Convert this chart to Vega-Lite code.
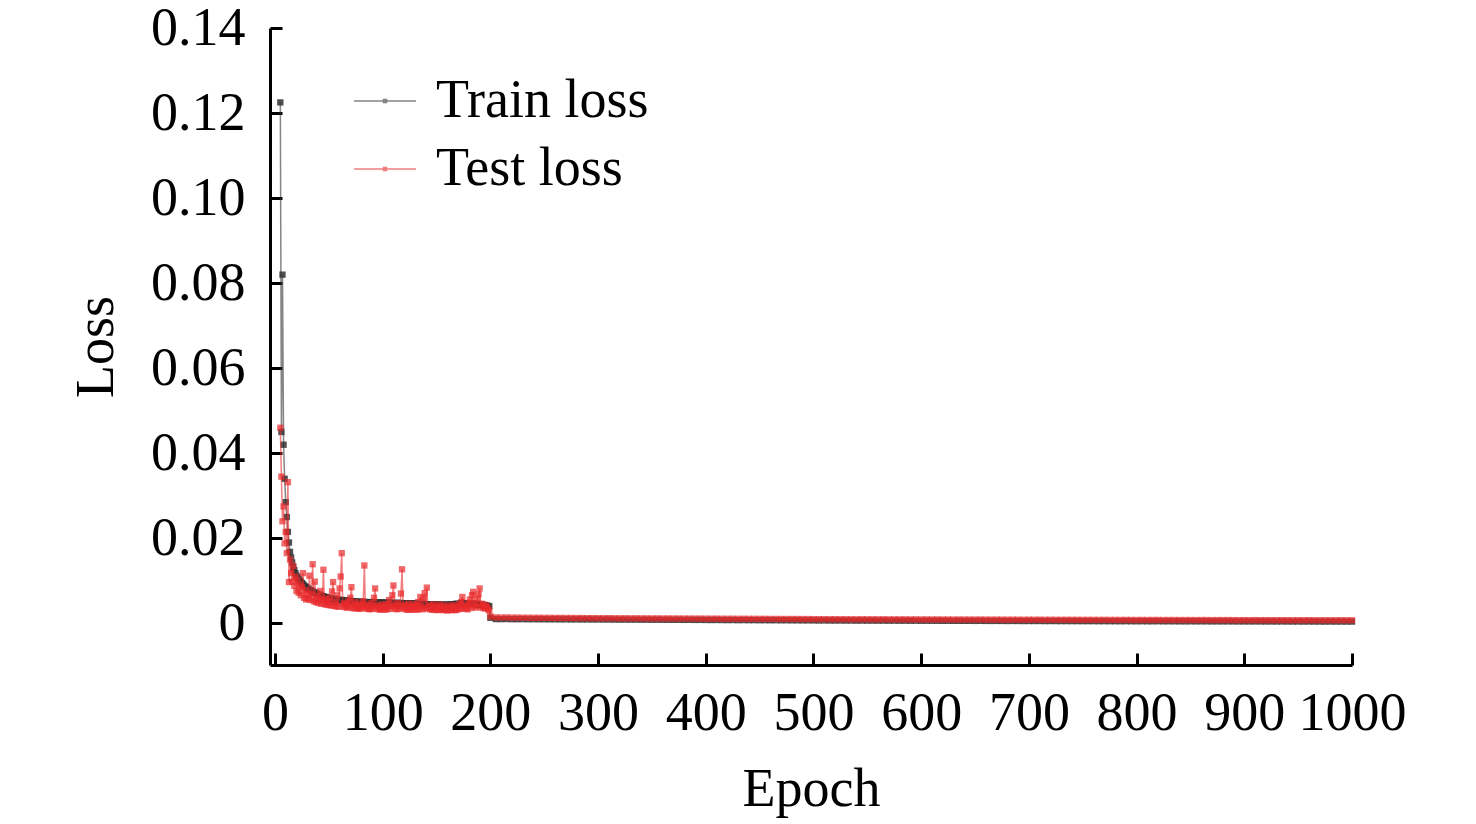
{
  "$schema": "https://vega.github.io/schema/vega-lite/v6.json",
  "width": 1082,
  "height": 637,
  "autosize": "none",
  "padding": {"left": 270, "top": 28, "right": 124, "bottom": 159},
  "background": "white",
  "config": {
    "view": {"stroke": null},
    "font": "Liberation Serif",
    "axis": {
      "domainColor": "black",
      "domainWidth": 3,
      "tickColor": "black",
      "tickWidth": 3,
      "tickSize": -12,
      "labelFont": "Liberation Serif",
      "labelFontSize": 54,
      "labelColor": "black",
      "titleFont": "Liberation Serif",
      "titleFontSize": 54,
      "titleFontWeight": "normal",
      "titleColor": "black",
      "grid": false
    },
    "axisX": {"titlePadding": 22, "labelPadding": 33},
    "axisY": {"titlePadding": 27, "labelPadding": 37},
    "legend": {
      "labelFont": "Liberation Serif",
      "labelFontSize": 54,
      "labelColor": "black",
      "labelOffset": 19,
      "labelLimit": 0,
      "rowPadding": 9,
      "padding": 0,
      "symbolType": "M-1,0H1M-0.05,-0.05H0.05V0.05H-0.05Z",
      "symbolSize": 3844,
      "symbolStrokeWidth": 1.5,
      "symbolOpacity": 0.6
    }
  },
  "data": {"values": [
    {"e":5,"train":0.1225,"test":0.046},
    {"e":6,"train":0.045,"test":0.0345},
    {"e":7,"train":0.082,"test":0.024},
    {"e":8,"train":0.042,"test":0.0275},
    {"e":9,"train":0.034,"test":0.0188},
    {"e":10,"train":0.0285,"test":0.0215},
    {"e":11,"train":0.025,"test":0.0165},
    {"e":12,"train":0.0215,"test":0.0332},
    {"e":13,"train":0.019,"test":0.0097},
    {"e":14,"train":0.0168,"test":0.015},
    {"e":15,"train":0.0155,"test":0.0118},
    {"e":16,"train":0.0143,"test":0.0098},
    {"e":17,"train":0.0132,"test":0.0135},
    {"e":18,"train":0.0125,"test":0.0088},
    {"e":19,"train":0.0118,"test":0.011},
    {"e":20,"train":0.0112,"test":0.0076},
    {"e":21,"train":0.0108,"test":0.0102},
    {"e":22,"train":0.0104,"test":0.0072},
    {"e":23,"train":0.0101,"test":0.009},
    {"e":24,"train":0.0098,"test":0.0066},
    {"e":25,"train":0.0095,"test":0.0085},
    {"e":26,"train":0.0092,"test":0.0118},
    {"e":27,"train":0.0089,"test":0.006},
    {"e":28,"train":0.0087,"test":0.0078},
    {"e":29,"train":0.0085,"test":0.0056},
    {"e":30,"train":0.0083,"test":0.007},
    {"e":31,"train":0.0081,"test":0.0058},
    {"e":32,"train":0.0079,"test":0.0112},
    {"e":33,"train":0.0078,"test":0.0055},
    {"e":34,"train":0.0076,"test":0.0068},
    {"e":35,"train":0.0075,"test":0.0139},
    {"e":36,"train":0.0073,"test":0.0052},
    {"e":37,"train":0.0072,"test":0.0098},
    {"e":38,"train":0.0071,"test":0.005},
    {"e":39,"train":0.0069,"test":0.0064},
    {"e":40,"train":0.0068,"test":0.0048},
    {"e":41,"train":0.0067,"test":0.0059},
    {"e":42,"train":0.0066,"test":0.0076},
    {"e":43,"train":0.0065,"test":0.0046},
    {"e":44,"train":0.0064,"test":0.0055},
    {"e":45,"train":0.0063,"test":0.0126},
    {"e":46,"train":0.0062,"test":0.0045},
    {"e":47,"train":0.0062,"test":0.0058},
    {"e":48,"train":0.0061,"test":0.0044},
    {"e":49,"train":0.006,"test":0.0052},
    {"e":50,"train":0.0059,"test":0.0043},
    {"e":51,"train":0.0059,"test":0.006},
    {"e":52,"train":0.0058,"test":0.0042},
    {"e":53,"train":0.0058,"test":0.0075},
    {"e":54,"train":0.0057,"test":0.0097},
    {"e":55,"train":0.0057,"test":0.0041},
    {"e":56,"train":0.0056,"test":0.005},
    {"e":57,"train":0.0056,"test":0.004},
    {"e":58,"train":0.0055,"test":0.0066},
    {"e":59,"train":0.0055,"test":0.0039},
    {"e":60,"train":0.0055,"test":0.0082},
    {"e":61,"train":0.0054,"test":0.011},
    {"e":62,"train":0.0055,"test":0.0165},
    {"e":63,"train":0.0054,"test":0.004},
    {"e":64,"train":0.0053,"test":0.0047},
    {"e":65,"train":0.0053,"test":0.0038},
    {"e":66,"train":0.0054,"test":0.0045},
    {"e":67,"train":0.0053,"test":0.0037},
    {"e":68,"train":0.0052,"test":0.0052},
    {"e":69,"train":0.0052,"test":0.0038},
    {"e":70,"train":0.0053,"test":0.006},
    {"e":71,"train":0.0052,"test":0.0085},
    {"e":72,"train":0.0051,"test":0.0036},
    {"e":73,"train":0.0052,"test":0.0044},
    {"e":74,"train":0.0051,"test":0.0035},
    {"e":75,"train":0.0051,"test":0.005},
    {"e":76,"train":0.005,"test":0.0036},
    {"e":77,"train":0.0051,"test":0.0042},
    {"e":78,"train":0.005,"test":0.0034},
    {"e":79,"train":0.005,"test":0.0046},
    {"e":80,"train":0.0051,"test":0.0035},
    {"e":81,"train":0.005,"test":0.004},
    {"e":82,"train":0.0049,"test":0.0052},
    {"e":83,"train":0.005,"test":0.0136},
    {"e":84,"train":0.0049,"test":0.0036},
    {"e":85,"train":0.005,"test":0.0043},
    {"e":86,"train":0.0049,"test":0.0034},
    {"e":87,"train":0.0049,"test":0.004},
    {"e":88,"train":0.005,"test":0.0033},
    {"e":89,"train":0.0049,"test":0.0047},
    {"e":90,"train":0.0048,"test":0.0034},
    {"e":91,"train":0.0049,"test":0.0041},
    {"e":92,"train":0.0049,"test":0.006},
    {"e":93,"train":0.0048,"test":0.0082},
    {"e":94,"train":0.0049,"test":0.0035},
    {"e":95,"train":0.0048,"test":0.0042},
    {"e":96,"train":0.0049,"test":0.0033},
    {"e":97,"train":0.0048,"test":0.0038},
    {"e":98,"train":0.0048,"test":0.0032},
    {"e":99,"train":0.0049,"test":0.0044},
    {"e":100,"train":0.0048,"test":0.0034},
    {"e":101,"train":0.0048,"test":0.0039},
    {"e":102,"train":0.0049,"test":0.0032},
    {"e":103,"train":0.0048,"test":0.0045},
    {"e":104,"train":0.0047,"test":0.0033},
    {"e":105,"train":0.0048,"test":0.004},
    {"e":106,"train":0.0049,"test":0.0055},
    {"e":107,"train":0.0048,"test":0.0034},
    {"e":108,"train":0.0047,"test":0.0041},
    {"e":109,"train":0.0048,"test":0.0066},
    {"e":110,"train":0.0048,"test":0.0089},
    {"e":111,"train":0.0047,"test":0.0035},
    {"e":112,"train":0.0048,"test":0.0042},
    {"e":113,"train":0.0047,"test":0.0033},
    {"e":114,"train":0.0048,"test":0.0048},
    {"e":115,"train":0.0047,"test":0.0034},
    {"e":116,"train":0.0047,"test":0.004},
    {"e":117,"train":0.0048,"test":0.007},
    {"e":118,"train":0.0047,"test":0.0127},
    {"e":119,"train":0.0046,"test":0.0036},
    {"e":120,"train":0.0047,"test":0.0043},
    {"e":121,"train":0.0047,"test":0.0033},
    {"e":122,"train":0.0046,"test":0.0039},
    {"e":123,"train":0.0047,"test":0.0032},
    {"e":124,"train":0.0046,"test":0.0046},
    {"e":125,"train":0.0047,"test":0.0033},
    {"e":126,"train":0.0046,"test":0.004},
    {"e":127,"train":0.0046,"test":0.0032},
    {"e":128,"train":0.0047,"test":0.0038},
    {"e":129,"train":0.0046,"test":0.0045},
    {"e":130,"train":0.0046,"test":0.0033},
    {"e":131,"train":0.0045,"test":0.0041},
    {"e":132,"train":0.0046,"test":0.0032},
    {"e":133,"train":0.0046,"test":0.005},
    {"e":134,"train":0.0045,"test":0.0034},
    {"e":135,"train":0.0046,"test":0.0062},
    {"e":136,"train":0.0045,"test":0.004},
    {"e":137,"train":0.0045,"test":0.0033},
    {"e":138,"train":0.0046,"test":0.0058},
    {"e":139,"train":0.0045,"test":0.0071},
    {"e":140,"train":0.0045,"test":0.0035},
    {"e":141,"train":0.0044,"test":0.0084},
    {"e":142,"train":0.0045,"test":0.0036},
    {"e":143,"train":0.0045,"test":0.0042},
    {"e":144,"train":0.0044,"test":0.0033},
    {"e":145,"train":0.0045,"test":0.0039},
    {"e":146,"train":0.0044,"test":0.0032},
    {"e":147,"train":0.0044,"test":0.0045},
    {"e":148,"train":0.0045,"test":0.0033},
    {"e":149,"train":0.0044,"test":0.0038},
    {"e":150,"train":0.0044,"test":0.0031},
    {"e":151,"train":0.0044,"test":0.004},
    {"e":152,"train":0.0043,"test":0.0032},
    {"e":153,"train":0.0044,"test":0.0044},
    {"e":154,"train":0.0044,"test":0.0033},
    {"e":155,"train":0.0043,"test":0.0037},
    {"e":156,"train":0.0044,"test":0.0031},
    {"e":157,"train":0.0043,"test":0.0042},
    {"e":158,"train":0.0043,"test":0.0032},
    {"e":159,"train":0.0044,"test":0.0036},
    {"e":160,"train":0.0043,"test":0.003},
    {"e":161,"train":0.0043,"test":0.0041},
    {"e":162,"train":0.0044,"test":0.0032},
    {"e":163,"train":0.0043,"test":0.0038},
    {"e":164,"train":0.0044,"test":0.0031},
    {"e":165,"train":0.0045,"test":0.0043},
    {"e":166,"train":0.0044,"test":0.0032},
    {"e":167,"train":0.0045,"test":0.0037},
    {"e":168,"train":0.0046,"test":0.0031},
    {"e":169,"train":0.0045,"test":0.004},
    {"e":170,"train":0.0046,"test":0.0033},
    {"e":171,"train":0.0045,"test":0.0045},
    {"e":172,"train":0.0046,"test":0.0034},
    {"e":173,"train":0.0047,"test":0.005},
    {"e":174,"train":0.0046,"test":0.0062},
    {"e":175,"train":0.0045,"test":0.0036},
    {"e":176,"train":0.0046,"test":0.0042},
    {"e":177,"train":0.0047,"test":0.0034},
    {"e":178,"train":0.0046,"test":0.004},
    {"e":179,"train":0.0045,"test":0.0033},
    {"e":180,"train":0.0046,"test":0.0048},
    {"e":181,"train":0.0047,"test":0.0056},
    {"e":182,"train":0.0046,"test":0.0036},
    {"e":183,"train":0.0045,"test":0.0066},
    {"e":184,"train":0.0046,"test":0.0074},
    {"e":185,"train":0.0045,"test":0.004},
    {"e":186,"train":0.0046,"test":0.0048},
    {"e":187,"train":0.0045,"test":0.0037},
    {"e":188,"train":0.0044,"test":0.0058},
    {"e":189,"train":0.0045,"test":0.0068},
    {"e":190,"train":0.0044,"test":0.0082},
    {"e":191,"train":0.0043,"test":0.0039},
    {"e":192,"train":0.0044,"test":0.0046},
    {"e":193,"train":0.0043,"test":0.0036},
    {"e":194,"train":0.0042,"test":0.0044},
    {"e":195,"train":0.0043,"test":0.0035},
    {"e":196,"train":0.0042,"test":0.0042},
    {"e":197,"train":0.0041,"test":0.0038},
    {"e":198,"train":0.0041,"test":0.0033},
    {"e":199,"train":0.004,"test":0.003},
    {"e":200,"train":0.0013,"test":0.0016},
    {"e":205,"train":0.001,"test":0.0014},
    {"e":210,"train":0.00099,"test":0.00136},
    {"e":215,"train":0.00101,"test":0.00138},
    {"e":220,"train":0.00098,"test":0.00133},
    {"e":225,"train":0.00097,"test":0.00135},
    {"e":230,"train":0.00099,"test":0.00131},
    {"e":235,"train":0.00096,"test":0.00133},
    {"e":240,"train":0.00097,"test":0.00129},
    {"e":245,"train":0.00095,"test":0.00131},
    {"e":250,"train":0.00096,"test":0.00128},
    {"e":255,"train":0.00094,"test":0.00129},
    {"e":260,"train":0.00095,"test":0.00126},
    {"e":265,"train":0.00093,"test":0.00128},
    {"e":270,"train":0.00094,"test":0.00125},
    {"e":275,"train":0.00092,"test":0.00126},
    {"e":280,"train":0.00093,"test":0.00124},
    {"e":285,"train":0.00091,"test":0.00125},
    {"e":290,"train":0.00092,"test":0.00122},
    {"e":295,"train":0.0009,"test":0.00123},
    {"e":300,"train":0.00091,"test":0.00121},
    {"e":305,"train":0.00089,"test":0.0012},
    {"e":310,"train":0.0009,"test":0.00121},
    {"e":315,"train":0.00088,"test":0.00119},
    {"e":320,"train":0.00087,"test":0.00118},
    {"e":325,"train":0.00088,"test":0.00119},
    {"e":330,"train":0.00086,"test":0.00117},
    {"e":335,"train":0.00087,"test":0.00118},
    {"e":340,"train":0.00085,"test":0.00116},
    {"e":345,"train":0.00086,"test":0.00117},
    {"e":350,"train":0.00084,"test":0.00115},
    {"e":355,"train":0.00085,"test":0.00116},
    {"e":360,"train":0.00083,"test":0.00114},
    {"e":365,"train":0.00084,"test":0.00115},
    {"e":370,"train":0.00082,"test":0.00113},
    {"e":375,"train":0.00083,"test":0.00114},
    {"e":380,"train":0.00081,"test":0.00112},
    {"e":385,"train":0.00082,"test":0.00113},
    {"e":390,"train":0.0008,"test":0.00111},
    {"e":395,"train":0.00081,"test":0.00112},
    {"e":400,"train":0.00079,"test":0.0011},
    {"e":405,"train":0.00078,"test":0.00109},
    {"e":410,"train":0.00079,"test":0.0011},
    {"e":415,"train":0.00077,"test":0.00108},
    {"e":420,"train":0.00076,"test":0.00107},
    {"e":425,"train":0.00077,"test":0.00108},
    {"e":430,"train":0.00075,"test":0.00106},
    {"e":435,"train":0.00076,"test":0.00107},
    {"e":440,"train":0.00074,"test":0.00105},
    {"e":445,"train":0.00075,"test":0.00106},
    {"e":450,"train":0.00073,"test":0.00104},
    {"e":455,"train":0.00074,"test":0.00105},
    {"e":460,"train":0.00072,"test":0.00103},
    {"e":465,"train":0.00073,"test":0.00104},
    {"e":470,"train":0.00071,"test":0.00102},
    {"e":475,"train":0.00072,"test":0.00103},
    {"e":480,"train":0.0007,"test":0.00101},
    {"e":485,"train":0.00071,"test":0.00102},
    {"e":490,"train":0.00069,"test":0.001},
    {"e":495,"train":0.0007,"test":0.00101},
    {"e":500,"train":0.00068,"test":0.00099},
    {"e":505,"train":0.00067,"test":0.00098},
    {"e":510,"train":0.00068,"test":0.00099},
    {"e":515,"train":0.00066,"test":0.00097},
    {"e":520,"train":0.00066,"test":0.00098},
    {"e":525,"train":0.00067,"test":0.00096},
    {"e":530,"train":0.00065,"test":0.00097},
    {"e":535,"train":0.00066,"test":0.00096},
    {"e":540,"train":0.00064,"test":0.00095},
    {"e":545,"train":0.00065,"test":0.00096},
    {"e":550,"train":0.00064,"test":0.00095},
    {"e":555,"train":0.00064,"test":0.00095},
    {"e":560,"train":0.00063,"test":0.00094},
    {"e":565,"train":0.00064,"test":0.00095},
    {"e":570,"train":0.00062,"test":0.00093},
    {"e":575,"train":0.00063,"test":0.00094},
    {"e":580,"train":0.00062,"test":0.00093},
    {"e":585,"train":0.00062,"test":0.00093},
    {"e":590,"train":0.00061,"test":0.00092},
    {"e":595,"train":0.00062,"test":0.00093},
    {"e":600,"train":0.0006,"test":0.00091},
    {"e":605,"train":0.00061,"test":0.00092},
    {"e":610,"train":0.0006,"test":0.00091},
    {"e":615,"train":0.0006,"test":0.00091},
    {"e":620,"train":0.00059,"test":0.0009},
    {"e":625,"train":0.0006,"test":0.00091},
    {"e":630,"train":0.00058,"test":0.00089},
    {"e":635,"train":0.00059,"test":0.0009},
    {"e":640,"train":0.00058,"test":0.00089},
    {"e":645,"train":0.00058,"test":0.00089},
    {"e":650,"train":0.00057,"test":0.00088},
    {"e":655,"train":0.00058,"test":0.00089},
    {"e":660,"train":0.00057,"test":0.00088},
    {"e":665,"train":0.00056,"test":0.00087},
    {"e":670,"train":0.00057,"test":0.00088},
    {"e":675,"train":0.00056,"test":0.00087},
    {"e":680,"train":0.00055,"test":0.00086},
    {"e":685,"train":0.00056,"test":0.00087},
    {"e":690,"train":0.00055,"test":0.00086},
    {"e":695,"train":0.00054,"test":0.00085},
    {"e":700,"train":0.00055,"test":0.00086},
    {"e":705,"train":0.00054,"test":0.00085},
    {"e":710,"train":0.00055,"test":0.00086},
    {"e":715,"train":0.00053,"test":0.00084},
    {"e":720,"train":0.00054,"test":0.00085},
    {"e":725,"train":0.00053,"test":0.00084},
    {"e":730,"train":0.00052,"test":0.00083},
    {"e":735,"train":0.00053,"test":0.00084},
    {"e":740,"train":0.00052,"test":0.00083},
    {"e":745,"train":0.00052,"test":0.00083},
    {"e":750,"train":0.00051,"test":0.00082},
    {"e":755,"train":0.00052,"test":0.00083},
    {"e":760,"train":0.00051,"test":0.00082},
    {"e":765,"train":0.0005,"test":0.00081},
    {"e":770,"train":0.00051,"test":0.00082},
    {"e":775,"train":0.0005,"test":0.00081},
    {"e":780,"train":0.0005,"test":0.00081},
    {"e":785,"train":0.00049,"test":0.0008},
    {"e":790,"train":0.0005,"test":0.00081},
    {"e":795,"train":0.00049,"test":0.0008},
    {"e":800,"train":0.00048,"test":0.00079},
    {"e":805,"train":0.00049,"test":0.0008},
    {"e":810,"train":0.00048,"test":0.00079},
    {"e":815,"train":0.00048,"test":0.00079},
    {"e":820,"train":0.00049,"test":0.0008},
    {"e":825,"train":0.00047,"test":0.00078},
    {"e":830,"train":0.00048,"test":0.00079},
    {"e":835,"train":0.00047,"test":0.00078},
    {"e":840,"train":0.00047,"test":0.00078},
    {"e":845,"train":0.00046,"test":0.00077},
    {"e":850,"train":0.00047,"test":0.00078},
    {"e":855,"train":0.00046,"test":0.00077},
    {"e":860,"train":0.00047,"test":0.00078},
    {"e":865,"train":0.00046,"test":0.00077},
    {"e":870,"train":0.00045,"test":0.00076},
    {"e":875,"train":0.00046,"test":0.00077},
    {"e":880,"train":0.00045,"test":0.00076},
    {"e":885,"train":0.00046,"test":0.00077},
    {"e":890,"train":0.00045,"test":0.00076},
    {"e":895,"train":0.00044,"test":0.00075},
    {"e":900,"train":0.00045,"test":0.00076},
    {"e":905,"train":0.00044,"test":0.00075},
    {"e":910,"train":0.00045,"test":0.00076},
    {"e":915,"train":0.00044,"test":0.00075},
    {"e":920,"train":0.00043,"test":0.00074},
    {"e":925,"train":0.00044,"test":0.00075},
    {"e":930,"train":0.00043,"test":0.00074},
    {"e":935,"train":0.00044,"test":0.00075},
    {"e":940,"train":0.00043,"test":0.00074},
    {"e":945,"train":0.00042,"test":0.00073},
    {"e":950,"train":0.00043,"test":0.00074},
    {"e":955,"train":0.00042,"test":0.00073},
    {"e":960,"train":0.00043,"test":0.00074},
    {"e":965,"train":0.00042,"test":0.00073},
    {"e":970,"train":0.00042,"test":0.00073},
    {"e":975,"train":0.00041,"test":0.00072},
    {"e":980,"train":0.00042,"test":0.00073},
    {"e":985,"train":0.00041,"test":0.00072},
    {"e":990,"train":0.00042,"test":0.00073},
    {"e":995,"train":0.00041,"test":0.00072},
    {"e":1000,"train":0.00041,"test":0.00072}
  ]},
  "encoding": {
    "x": {
      "field": "e",
      "type": "quantitative",
      "scale": {"domain": [-4.6, 1000], "nice": false, "zero": false},
      "axis": {
        "title": "Epoch",
        "values": [0, 100, 200, 300, 400, 500, 600, 700, 800, 900, 1000],
        "format": "d",
        "labelFlush": false
      }
    }
  },
  "layer": [
    {
      "mark": {
        "type": "line",
        "strokeWidth": 1.5,
        "opacity": 0.6,
        "point": {"filled": true, "shape": "square", "size": 40, "opacity": 0.85}
      },
      "encoding": {
        "y": {
          "field": "train",
          "type": "quantitative",
          "title": "Loss",
          "scale": {"domain": [-0.0098, 0.14], "nice": false, "zero": false},
          "axis": {
            "values": [0, 0.02, 0.04, 0.06, 0.08, 0.1, 0.12, 0.14],
            "labelExpr": "datum.value == 0 ? '0' : format(datum.value, '.2f')"
          }
        },
        "color": {
          "datum": "Train loss",
          "type": "nominal",
          "scale": {"domain": ["Train loss", "Test loss"], "range": ["#333333", "#e8292b"]},
          "legend": {"orient": "none", "legendX": 83, "legendY": 41, "title": null}
        }
      }
    },
    {
      "mark": {
        "type": "line",
        "strokeWidth": 1.5,
        "opacity": 0.6,
        "point": {"filled": true, "shape": "square", "size": 40, "opacity": 0.7}
      },
      "encoding": {
        "y": {"field": "test", "type": "quantitative", "title": "Loss"},
        "color": {"datum": "Test loss", "type": "nominal"}
      }
    }
  ]
}
